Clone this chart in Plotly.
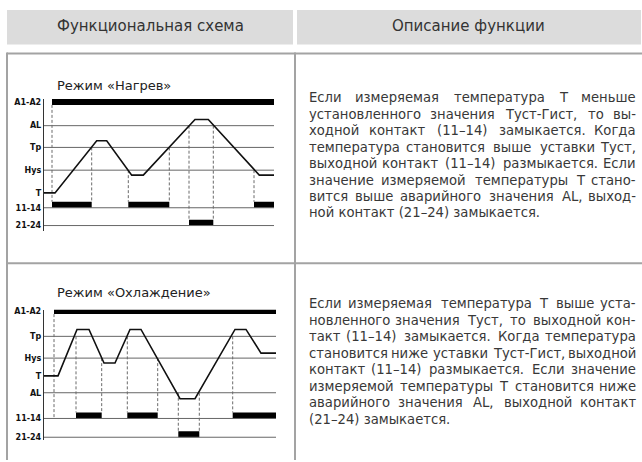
import plotly.graph_objects as go

W, H = 642, 462

header_left = "Функциональная схема"
header_right = "Описание функции"

row_names = ["A1-A2", "AL", "Tp", "Hys", "T", "11-14", "21-24"]
grid_rows = ["AL", "Tp", "Hys", "11-14", "21-24"]

# ---- Heating diagram (time units / level units) ----
heat_title = "Режим «Нагрев»"
heat_levels = {"A1-A2": 92, "AL": 68, "Tp": 46, "Hys": 23, "T": 0, "11-14": -15, "21-24": -33}
heat_t = [0, 11, 52.7, 62.7, 87.7, 99.3, 151, 164.3, 215.3, 230]
heat_T = [0, 0, 52.7, 52.7, 18, 18, 74.3, 74.3, 18, 18]
heat_power = [8, 230]
heat_k1_on = [8, 84.3, 210]
heat_k1_off = [47.7, 125.3, 230]
heat_k2_on = [145]
heat_k2_off = [169.3]
heat_marks_t = [8, 47.7, 84.3, 125.3, 145, 169.3, 210]
heat_marks_from = ["A1-A2", "Tp", "Hys", "Tp", "AL", "AL", "Hys"]
heat_marks_to = ["11-14", "11-14", "11-14", "11-14", "21-24", "21-24", "11-14"]

# ---- Cooling diagram ----
cool_title = "Режим «Охлаждение»"
cool_levels = {"A1-A2": 65.5, "Tp": 40, "Hys": 18, "T": 0, "AL": -17, "11-14": -43, "21-24": -62}
cool_t = [0, 14, 33, 45, 60, 71, 86, 97, 136, 151, 191, 202, 217, 232]
cool_T = [0, 0, 47, 47, 13, 13, 47, 47, -23, -23, 47, 47, 23, 23]
cool_power = [10, 232]
cool_k1_on = [32, 83.3, 188.7]
cool_k1_off = [57.7, 113.7, 232]
cool_k2_on = [134.3]
cool_k2_off = [155.3]
cool_marks_t = [10, 32, 57.7, 83.3, 113.7, 134.3, 155.3, 188.7]
cool_marks_from = ["A1-A2", "Tp", "Hys", "Tp", "Hys", "AL", "AL", "Tp"]
cool_marks_to = ["11-14", "11-14", "11-14", "11-14", "11-14", "21-24", "21-24", "11-14"]

heat_text = [
    "Если измеряемая температура Т меньше",
    "установленного значения Туст-Гист, то вы-",
    "ходной контакт (11–14) замыкается. Когда",
    "температура становится выше уставки Туст,",
    "выходной контакт (11–14) размыкается. Если",
    "значение измеряемой температуры Т стано-",
    "вится выше аварийного значения AL, выход-",
    "ной контакт (21–24) замыкается.",
]
cool_text = [
    "Если измеряемая температура Т выше уста-",
    "новленного значения Туст, то выходной кон-",
    "такт (11–14) замыкается. Когда температура",
    "становится ниже уставки Туст-Гист, выходной",
    "контакт (11–14) размыкается. Если значение",
    "измеряемой температуры Т становится ниже",
    "аварийного значения AL, выходной контакт",
    "(21–24) замыкается.",
]

BODY_FONT = "DejaVu Sans"
BODY_SIZE = 13.2
TEXT_COLOR = "#383838"

CW = {
    'а': .613, 'б': .618, 'в': .59, 'г': .48, 'д': .66, 'е': .615, 'ж': .86, 'з': .53,
    'и': .65, 'й': .65, 'к': .6, 'л': .64, 'м': .77, 'н': .65, 'о': .612, 'п': .65,
    'р': .635, 'с': .55, 'т': .575, 'у': .592, 'ф': .92, 'х': .592, 'ц': .66, 'ч': .62,
    'ш': .9, 'щ': .92, 'ъ': .72, 'ы': .82, 'ь': .6, 'э': .55, 'ю': .86, 'я': .62,
    'Е': .632, 'Т': .611, 'К': .66, 'А': .684, 'L': .557, 'Г': .576, 'Л': .69,
    ' ': .318, '.': .318, ',': .318, '(': .39, ')': .39, '–': .5, '-': .361,
}


def text_w(s, size):
    return sum(CW.get(c, .636) for c in s) * size


def px(x):
    return x / W


def py(y):
    return 1 - y / H


fig = go.Figure()
annotations = []
shapes = []

# ---- table frame ----
HEAD_FILL = "#dcdcdc"
LINE_C = "#a3a3a3"
shapes.append(dict(type="rect", xref="paper", yref="paper", x0=px(7), x1=px(293), y0=py(42), y1=py(7),
                   fillcolor=HEAD_FILL, line=dict(width=0), layer="below"))
shapes.append(dict(type="rect", xref="paper", yref="paper", x0=px(297), x1=px(641), y0=py(42), y1=py(7),
                   fillcolor=HEAD_FILL, line=dict(width=0), layer="below"))
for (x0, y0, x1, y1) in [(7, 51, 642, 51), (7, 263, 642, 263), (7, 50, 7, 462), (295, 50, 295, 462)]:
    shapes.append(dict(type="line", xref="paper", yref="paper", x0=px(x0), x1=px(x1), y0=py(y0), y1=py(y1),
                       line=dict(color=LINE_C, width=2)))

annotations.append(dict(text=header_left, x=px(150), y=py(23), xref="paper", yref="paper", showarrow=False,
                        xanchor="center", yanchor="middle", font=dict(family=BODY_FONT, size=15, color="#333")))
annotations.append(dict(text=header_right, x=px(468), y=py(23), xref="paper", yref="paper", showarrow=False,
                        xanchor="center", yanchor="middle", font=dict(family=BODY_FONT, size=15, color="#333")))


def add_paragraph(lines, x0, x1, y0, dy):
    for i, line in enumerate(lines):
        y = py(y0 + i * dy)
        words = line.split(" ")
        last = i == len(lines) - 1
        f = dict(family=BODY_FONT, size=BODY_SIZE, color=TEXT_COLOR)
        if last or len(words) < 2:
            annotations.append(dict(text=line, x=px(x0), y=y, xref="paper", yref="paper", showarrow=False,
                                    xanchor="left", yanchor="middle", font=f))
            continue
        ws = [text_w(w, BODY_SIZE) for w in words]
        gap = (x1 - x0 - sum(ws)) / (len(words) - 1)
        left = x0
        for j, (w, wd) in enumerate(zip(words, ws)):
            if j == 0:
                ax, xa = x0, "left"
            elif j == len(words) - 1:
                ax, xa = x1, "right"
            else:
                ax, xa = left + wd / 2, "center"
            annotations.append(dict(text=w, x=px(ax), y=y, xref="paper", yref="paper", showarrow=False,
                                    xanchor=xa, yanchor="middle", font=f))
            left += wd + gap


add_paragraph(heat_text, 307, 638, 96, 16.6)
add_paragraph(cool_text, 307, 638, 304, 16.7)


def add_diagram(xa, ya, t, T, levels, power, k1_on, k1_off, k2_on, k2_off, mt, mfrom, mto):
    t_end = t[-1]
    common = dict(xaxis=xa, yaxis=ya, hoverinfo="skip", showlegend=False)
    for name in grid_rows:
        fig.add_trace(go.Scatter(x=[t[0], t_end], y=[levels[name]] * 2, mode="lines",
                                 line=dict(color="#666", width=1), cliponaxis=False, **common))
    ons = {"11-14": list(zip(k1_on, k1_off)), "21-24": list(zip(k2_on, k2_off))}
    dx, dy = [], []
    for tm, fr, to in zip(mt, mfrom, mto):
        top = levels[fr] - 3 if fr == "A1-A2" else levels[fr]
        has_bar = any(a - 0.5 <= tm <= b + 0.5 for a, b in ons[to])
        bot = levels[to] + 6 if has_bar else levels[to]
        dx += [tm, tm, None]
        dy += [top, bot, None]
    fig.add_trace(go.Scatter(x=dx, y=dy, mode="lines", line=dict(color="#6a6a6a", width=1, dash="3px,2px"),
                             cliponaxis=False, **common))
    fig.add_trace(go.Bar(x=[power[1] - power[0]], base=[power[0]], y=[levels["A1-A2"]], orientation="h",
                         width=6, marker=dict(color="#000", line=dict(width=0)), **common))
    fig.add_trace(go.Bar(x=[b - a for a, b in zip(k1_on, k1_off)], base=k1_on,
                         y=[levels["11-14"] + 3] * len(k1_on), orientation="h", width=6,
                         marker=dict(color="#000", line=dict(width=0)), **common))
    fig.add_trace(go.Bar(x=[b - a for a, b in zip(k2_on, k2_off)], base=k2_on,
                         y=[levels["21-24"] + 3] * len(k2_on), orientation="h", width=6,
                         marker=dict(color="#000", line=dict(width=0)), **common))
    fig.add_trace(go.Scatter(x=t, y=T, mode="lines", line=dict(color="#111", width=1.6),
                             cliponaxis=False, **common))


add_diagram("x", "y", heat_t, heat_T, heat_levels, heat_power, heat_k1_on, heat_k1_off,
            heat_k2_on, heat_k2_off, heat_marks_t, heat_marks_from, heat_marks_to)
add_diagram("x2", "y2", cool_t, cool_T, cool_levels, cool_power, cool_k1_on, cool_k1_off,
            cool_k2_on, cool_k2_off, cool_marks_t, cool_marks_from, cool_marks_to)

annotations.append(dict(text=heat_title, x=px(55), y=py(83), xref="paper", yref="paper", showarrow=False,
                        xanchor="left", yanchor="middle", font=dict(family=BODY_FONT, size=13, color="#222")))
annotations.append(dict(text=cool_title, x=px(55), y=py(293), xref="paper", yref="paper", showarrow=False,
                        xanchor="left", yanchor="middle", font=dict(family=BODY_FONT, size=13, color="#222")))

tick_font = dict(family="DejaVu Sans", size=8, color="#111", weight="bold")


def yaxis_cfg(levels, dom, rng):
    return dict(domain=dom, range=rng, showline=True, linecolor="#333", linewidth=1.2, ticks="",
                tickvals=[levels[n] for n in row_names], ticktext=row_names, tickfont=tick_font,
                showgrid=False, zeroline=False, fixedrange=True)


fig.update_layout(
    width=W, height=H, margin=dict(l=0, r=0, t=0, b=0),
    paper_bgcolor="white", plot_bgcolor="rgba(0,0,0,0)",
    barmode="overlay", showlegend=False, hovermode=False,
    xaxis=dict(domain=[px(44), px(276)], range=[0, 232], visible=False, anchor="y", fixedrange=True),
    yaxis=dict(anchor="x", **yaxis_cfg(heat_levels, [py(230), py(97)], [-38, 95])),
    xaxis2=dict(domain=[px(44), px(278)], range=[0, 234], visible=False, anchor="y2", fixedrange=True),
    yaxis2=dict(anchor="x2", **yaxis_cfg(cool_levels, [py(442), py(310)], [-65, 67])),
    shapes=shapes, annotations=annotations,
)

fig.write_html(
    "out.html",
    config={"displayModeBar": False, "staticPlot": True},
    post_script="document.body.style.margin='0px';"
                "document.body.style.overflow='hidden';"
                "document.documentElement.style.overflow='hidden';",
)
